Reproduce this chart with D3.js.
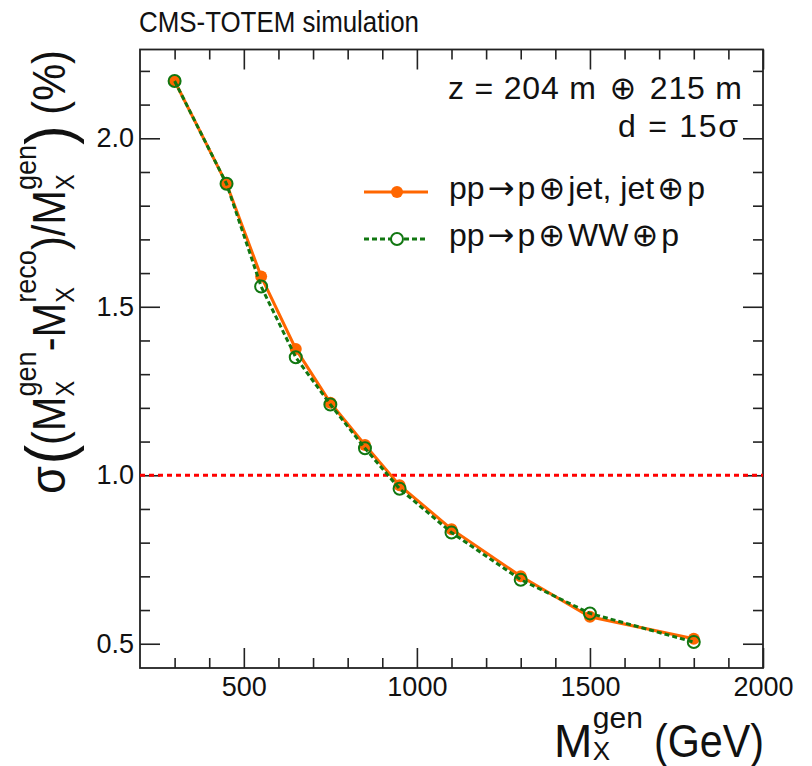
<!DOCTYPE html>
<html>
<head>
<meta charset="utf-8">
<script src="https://cdn.jsdelivr.net/npm/d3@7"></script>
<style>
  html, body { margin: 0; padding: 0; background: #fff; }
  svg { display: block; }
  text { font-family: "Liberation Sans", Arial, Helvetica, sans-serif; fill: #111; }
  .sym { font-family: "DejaVu Sans", "Liberation Sans", sans-serif; }
</style>
</head>
<body>
<svg id="chart" width="812" height="766"></svg>
<script>
// Generated mass points (GeV) and relative mass resolution (%)
const massGeV   = [300, 450, 550, 650, 750, 850, 950, 1100, 1300, 1500, 1800];
const resJetJet = [2.17, 1.865, 1.59, 1.375, 1.215, 1.09, 0.97, 0.84, 0.70, 0.58, 0.515];
const resWW     = [2.17, 1.865, 1.56, 1.35, 1.21, 1.08, 0.96, 0.83, 0.69, 0.59, 0.505];

const xMajorTicks = [500, 1000, 1500, 2000];
const yMajorTicks = [0.5, 1.0, 1.5, 2.0];
const referenceLevel = 1.0;

// legend / annotation strings, split so that the arrow and circled-plus use a symbol font
const seriesLabels = [
  ["pp", "\u2192", "p", "\u2295", "jet, jet", "\u2295", "p"],
  ["pp", "\u2192", "p", "\u2295", "WW", "\u2295", "p"]
];
const titleText = "CMS-TOTEM simulation";
const configLines = [["z = 204 m ", "\u2295", " 215 m"], ["d = 15", "\u03c3"]];

const FONT = '"Liberation Sans", Arial, Helvetica, sans-serif';
const INK = "#111";
const ORANGE = "#ff6600";
const GREEN = "#117711";
const RED = "#ff0000";

const svg = d3.select("#chart");
const m = { left: 140, right: 763, top: 49.5, bottom: 668 };

const x = d3.scaleLinear().domain([200, 2000]).range([m.left, m.right]);
const y = d3.scaleLinear().domain([0.428, 2.2635]).range([m.bottom, m.top]);

// ---- axes: major + minor ticks on all four sides, pointing inward ----
function styleAxis(g, withLabels) {
  g.select(".domain").remove();
  g.selectAll(".tick line").attr("stroke", "#222").attr("stroke-width", 1.6);
  g.selectAll(".tick text")
    .attr("font-size", 27).attr("font-family", FONT).attr("fill", INK)
    .style("display", withLabels ? null : "none");
  return g;
}
const xMinor = d3.range(300, 2000, 100).filter(v => v % 500 !== 0);
const yMinor = d3.range(5, 23).filter(i => i % 5 !== 0).map(i => i / 10);

styleAxis(svg.append("g").attr("transform", `translate(0,${m.bottom})`)
  .call(d3.axisBottom(x).tickValues(xMajorTicks).tickSize(-20).tickPadding(9).tickFormat(d3.format("d"))), true);
styleAxis(svg.append("g").attr("transform", `translate(0,${m.bottom})`)
  .call(d3.axisBottom(x).tickValues(xMinor).tickSize(-10).tickFormat("")), false);
styleAxis(svg.append("g").attr("transform", `translate(0,${m.top})`)
  .call(d3.axisTop(x).tickValues(xMajorTicks).tickSize(-20).tickFormat("")), false);
styleAxis(svg.append("g").attr("transform", `translate(0,${m.top})`)
  .call(d3.axisTop(x).tickValues(xMinor).tickSize(-10).tickFormat("")), false);

styleAxis(svg.append("g").attr("transform", `translate(${m.left},0)`)
  .call(d3.axisLeft(y).tickValues(yMajorTicks).tickSize(-20).tickPadding(6).tickFormat(d3.format(".1f"))), true);
styleAxis(svg.append("g").attr("transform", `translate(${m.left},0)`)
  .call(d3.axisLeft(y).tickValues(yMinor).tickSize(-10).tickFormat("")), false);
styleAxis(svg.append("g").attr("transform", `translate(${m.right},0)`)
  .call(d3.axisRight(y).tickValues(yMajorTicks).tickSize(-20).tickFormat("")), false);
styleAxis(svg.append("g").attr("transform", `translate(${m.right},0)`)
  .call(d3.axisRight(y).tickValues(yMinor).tickSize(-10).tickFormat("")), false);

// frame
svg.append("rect")
  .attr("x", m.left).attr("y", m.top)
  .attr("width", m.right - m.left).attr("height", m.bottom - m.top)
  .attr("fill", "none").attr("stroke", "#222").attr("stroke-width", 1.8);

// ---- 1 % reference line ----
svg.append("line")
  .attr("x1", x(200)).attr("x2", x(2000))
  .attr("y1", y(referenceLevel)).attr("y2", y(referenceLevel))
  .attr("stroke", RED).attr("stroke-width", 3).attr("stroke-dasharray", "5,4");

// ---- data series ----
const jetData = massGeV.map((mx, i) => ({ mx, v: resJetJet[i] }));
const wwData  = massGeV.map((mx, i) => ({ mx, v: resWW[i] }));
const line = d3.line().x(d => x(d.mx)).y(d => y(d.v));

svg.append("path").datum(jetData).attr("d", line)
  .attr("fill", "none").attr("stroke", ORANGE).attr("stroke-width", 3);
svg.append("g").selectAll("circle").data(jetData).join("circle")
  .attr("cx", d => x(d.mx)).attr("cy", d => y(d.v)).attr("r", 6)
  .attr("fill", ORANGE);

svg.append("path").datum(wwData).attr("d", line)
  .attr("fill", "none").attr("stroke", GREEN).attr("stroke-width", 3)
  .attr("stroke-dasharray", "5,3");
svg.append("g").selectAll("circle").data(wwData).join("circle")
  .attr("cx", d => x(d.mx)).attr("cy", d => y(d.v)).attr("r", 6)
  .attr("fill", "none").attr("stroke", GREEN).attr("stroke-width", 2);

// ---- title ----
svg.append("text").attr("x", 139).attr("y", 32)
  .attr("font-size", 30).attr("textLength", 280).attr("lengthAdjust", "spacingAndGlyphs")
  .text(titleText);

// text made of plain and symbol pieces
function richText(parent, pieces, attrs) {
  const t = parent.append("text");
  Object.entries(attrs).forEach(([k, v]) => t.attr(k, v));
  pieces.forEach(p => {
    const isSym = /[\u2192\u2295]/.test(p);
    t.append("tspan").attr("class", isSym ? "sym" : null)
      .attr("dx", isSym ? 3 : (p.startsWith("p") || p.startsWith("j") || p.startsWith("W") || p.startsWith(" ") ? 3 : 0))
      .text(p);
  });
  return t;
}

// ---- configuration text ----
richText(svg, configLines[0], { x: 448, y: 99, "font-size": 32, textLength: 294, lengthAdjust: "spacing" });
richText(svg, configLines[1], { x: 618, y: 137, "font-size": 32, textLength: 120, lengthAdjust: "spacing" });

// ---- legend ----
const legend = svg.append("g");
const legendRows = [
  { label: seriesLabels[0], yRow: 192, color: ORANGE, dash: null, filled: true, len: 256 },
  { label: seriesLabels[1], yRow: 239, color: GREEN, dash: "5,3", filled: false, len: 230 }
];
legendRows.forEach(r => {
  legend.append("line").attr("x1", 364).attr("x2", 428).attr("y1", r.yRow).attr("y2", r.yRow)
    .attr("stroke", r.color).attr("stroke-width", 3).attr("stroke-dasharray", r.dash);
  legend.append("circle").attr("cx", 397).attr("cy", r.yRow).attr("r", 6)
    .attr("fill", r.filled ? r.color : "#fff").attr("stroke", r.filled ? "none" : r.color)
    .attr("stroke-width", 2);
  richText(legend, r.label, { x: 446, y: r.yRow + 7, "font-size": 32, textLength: r.len, lengthAdjust: "spacing" });
});

// ---- axis titles built from pieces (main glyphs, sub/superscripts) ----
function measure(str, size) {
  const t = svg.append("text").attr("font-size", size).text(str);
  const w = t.node().getComputedTextLength();
  t.remove();
  return w;
}
// pieces: {t, s, dy, stack}; stack => starts at same x as the previous piece
function layout(g, pieces) {
  let cursor = 0, prevStart = 0, prevEnd = 0;
  pieces.forEach(p => {
    const w = measure(p.t, p.s);
    const start = p.stack ? prevStart : cursor + (p.gap || 0);
    g.append("text").attr("x", start).attr("y", p.dy || 0)
      .attr("font-size", p.s).text(p.t);
    const end = start + w;
    cursor = p.stack ? Math.max(prevEnd, end) : end;
    prevEnd = p.stack ? Math.max(prevEnd, end) : end;
    prevStart = start;
  });
  return cursor;
}

// x-axis title: M_X^gen (GeV)
const xt = svg.append("g").attr("transform", "translate(554,757)");
const mWidth = measure("M", 46);
xt.append("text").attr("x", 0).attr("y", 0).attr("font-size", 46).text("M");
xt.append("text").attr("x", mWidth + 0.5).attr("y", 3).attr("font-size", 26).text("X");
xt.append("text").attr("x", mWidth + 0.5).attr("y", -29).attr("font-size", 30).text("gen");
xt.append("text").attr("x", 100).attr("y", 0).attr("font-size", 46)
  .attr("textLength", 110).attr("lengthAdjust", "spacingAndGlyphs").text("(GeV)");

// y-axis title: sigma((M_X^gen - M_X^reco)/M_X^gen) (%)
const yt = svg.append("g").attr("transform", "translate(65,494) rotate(-90)");
const ytInner = yt.append("g");
const MS = 46, SS = 30;
const mSub = { t: "X", s: 26, dy: 9 };
const yPieces = [
  { t: "\u03c3", s: 50 },
  { t: "(", s: 64, dy: 6, gap: 2 },
  { t: "(", s: MS },
  { t: "M", s: MS }, { ...mSub }, { t: "gen", s: SS, dy: -29, stack: true },
  { t: "-", s: MS },
  { t: "M", s: MS }, { ...mSub }, { t: "reco", s: SS, dy: -29, stack: true },
  { t: ")", s: MS },
  { t: "/", s: MS },
  { t: "M", s: MS }, { ...mSub }, { t: "gen", s: SS, dy: -29, stack: true },
  { t: ")", s: 64, dy: 6 },
  { t: "(%)", s: MS, gap: 12 }
];
const yLen = layout(ytInner, yPieces);
ytInner.attr("transform", `scale(${444 / yLen},1)`);
</script>
</body>
</html>
